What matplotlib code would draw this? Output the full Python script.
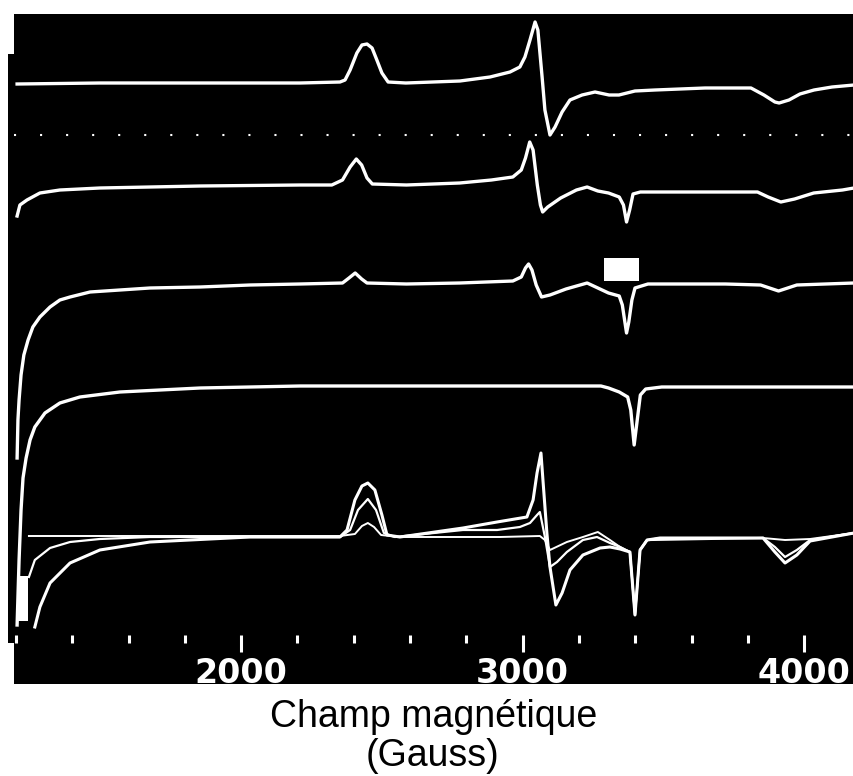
import matplotlib
matplotlib.use("Agg")
import matplotlib.pyplot as plt
from matplotlib.patches import Rectangle
from matplotlib.ticker import MultipleLocator

# spectra, top to bottom; field in Gauss, signal in arbitrary units above each baseline
offsets = [617, 514, 416, 314, 163]
dotted_level = 565

field_1 = [1204, 1498, 1854, 2209, 2351, 2369, 2387, 2411, 2429, 2447, 2465, 2482, 2500, 2522, 2585,
           2777, 2884, 2955, 2990, 3008, 3026, 3044, 3054, 3069, 3079, 3097, 3115, 3140, 3168, 3211,
           3257, 3307, 3342, 3399, 3470, 3648, 3811, 3857, 3896, 3911, 3946, 3985, 4035, 4099, 4177]
signal_1 = [-1, 0, 0, 0, 1, 3, 13, 30, 38, 39, 35, 23, 10, 1, 0,
            2, 6, 11, 16, 26, 43, 61, 53, 6, -27, -52, -44, -29, -17, -12,
            -9, -12, -12, -8, -7, -5, -5, -12, -19, -20, -17, -11, -7, -4, -2]

field_2 = [1204, 1214, 1239, 1285, 1356, 1498, 1676, 1854, 2209, 2322, 2360, 2387, 2409, 2428, 2447,
           2466, 2587, 2776, 2889, 2965, 2995, 3010, 3025, 3037, 3052, 3063, 3071, 3089, 3135, 3191,
           3229, 3267, 3305, 3343, 3358, 3369, 3380, 3392, 3418, 3467, 3720, 3834, 3872, 3917, 3966,
           4034, 4136, 4177]
signal_2 = [-30, -19, -14, -7, -4, -2, -1, 0, 1, 1, 6, 19, 27, 21, 8,
            2, 1, 3, 6, 9, 16, 28, 44, 36, 1, -19, -26, -21, -12, -4,
            -1, -5, -7, -11, -19, -36, -24, -8, -6, -6, -6, -6, -11, -16, -13,
            -7, -4, -2]

field_3 = [1204, 1207, 1211, 1218, 1228, 1243, 1260, 1285, 1321, 1356, 1392, 1463, 1569, 1676, 1854,
           2031, 2209, 2360, 2383, 2405, 2428, 2447, 2587, 2776, 2965, 2995, 3010, 3021, 3033, 3048,
           3067, 3097, 3154, 3229, 3267, 3305, 3343, 3354, 3362, 3369, 3377, 3388, 3399, 3445, 3720,
           3845, 3909, 3974, 4177]
signal_3 = [-174, -136, -116, -91, -71, -56, -43, -33, -23, -16, -13, -8, -6, -4, -3,
            -1, 0, 1, 6, 11, 5, 1, 0, 1, 3, 7, 16, 20, 14, -1,
            -13, -11, -5, 1, -4, -9, -12, -21, -36, -49, -38, -16, -4, 0, 0,
            -1, -7, -1, 1]

field_4 = [1204, 1211, 1218, 1225, 1236, 1250, 1267, 1303, 1356, 1427, 1569, 1854, 2209, 2587, 2965,
           3278, 3305, 3343, 3373, 3384, 3396, 3407, 3418, 3437, 3494, 4177]
signal_4 = [-239, -174, -124, -92, -72, -54, -41, -27, -17, -11, -6, -2, 0, 0, 0,
            0, -2, -6, -11, -24, -59, -34, -9, -3, -1, -1]

# overlaid group at the bottom (weak, medium, strong)
field_5a = [1246, 1498, 1854, 2351, 2404, 2429, 2450, 2472, 2497, 2564, 2919, 3061, 3079, 3097, 3157,
            3214, 3267, 3310, 3346, 3381, 3399, 3417, 3442, 3488, 3630, 3854, 3932, 4021, 4177]
signal_5a = [1, 1, 1, 1, 3, 11, 14, 10, 2, 0, 0, 1, -3, -13, -5,
             0, 5, -3, -10, -15, -78, -13, -3, -1, -1, -1, -3, -2, 4]

field_5b = [1246, 1267, 1321, 1392, 1498, 1676, 2351, 2387, 2415, 2450, 2479, 2507, 2546, 2788, 2909,
            2990, 3026, 3051, 3061, 3079, 3097, 3122, 3157, 3214, 3264, 3310, 3346, 3381, 3399, 3417,
            3442, 3854, 3896, 3932, 3974, 4021, 4177]
signal_5b = [-40, -23, -11, -5, -2, 0, 0, 7, 27, 38, 27, 4, 0, 7, 7,
             10, 14, 22, 25, 0, -30, -25, -15, -3, 0, -6, -10, -15, -78, -13,
             -3, -1, -10, -20, -13, -3, 4]

field_5c = [1267, 1285, 1321, 1392, 1498, 1676, 2031, 2351, 2376, 2404, 2429, 2450, 2475, 2500, 2518,
            2564, 2788, 2909, 3015, 3037, 3051, 3065, 3072, 3086, 3097, 3118, 3140, 3168, 3214, 3275,
            3310, 3346, 3381, 3399, 3417, 3442, 3488, 3854, 3896, 3932, 3974, 4021, 4177]
signal_5c = [-90, -70, -46, -26, -13, -5, 0, 0, 7, 37, 51, 54, 47, 22, 2,
             0, 9, 15, 20, 37, 64, 84, 57, 4, -30, -68, -56, -33, -18, -11,
             -10, -12, -15, -78, -13, -3, -1, -1, -15, -26, -18, -4, 4]

major_ticks = [2000, 3000, 4000]

W, H = 854, 776
fig = plt.figure(figsize=(W / 100, H / 100), dpi=100, facecolor="white")

# black board behind the plot and the tick numbers
fig.patches.append(Rectangle((14 / W, 1 - 684 / H), 840 / W, 670 / H, transform=fig.transFigure,
                             facecolor="black", edgecolor="none", zorder=-10))
fig.patches.append(Rectangle((8 / W, 1 - 643 / H), 7 / W, 589 / H, transform=fig.transFigure,
                             facecolor="black", edgecolor="none", zorder=-10))

ax = fig.add_axes([14 / W, 1 - 635 / H, 840 / W, 621 / H])
ax.set_zorder(1)
ax.set_facecolor("black")
for s in ax.spines.values():
    s.set_visible(False)

ax.axhline(dotted_level, color="white", lw=1.5, ls=(0, (1, 11.5)))

top = [(field_1, signal_1), (field_2, signal_2), (field_3, signal_3), (field_4, signal_4)]
for (f, s), off in zip(top, offsets[:4]):
    ax.plot(f, [off + v for v in s], color="white", lw=2.4, solid_joinstyle="round")

for f, s, lw in [(field_5a, signal_5a, 1.4), (field_5b, signal_5b, 1.6), (field_5c, signal_5c, 2.2)]:
    ax.plot(f, [offsets[4] + v for v in s], color="white", lw=lw, solid_joinstyle="round")

# white masking blocks on the trace
ax.add_patch(Rectangle((3289, 419), 124, 23, facecolor="white", edgecolor="none"))
ax.add_patch(Rectangle((1204, 79), 39, 45, facecolor="white", edgecolor="none"))

ax.set_xlim(1193, 4177)
ax.set_ylim(65, 686)
ax.set_yticks([])
ax.set_xticks(major_ticks)
ax.xaxis.set_minor_locator(MultipleLocator(200))
ax.tick_params(axis="x", which="major", length=12.5, width=2.2, color="white", pad=3,
               labelcolor="white", labelsize=24)
ax.tick_params(axis="x", which="minor", length=5.5, width=2.2, color="white")
for lab in ax.get_xticklabels():
    lab.set_fontweight("bold")
    lab.set_family("DejaVu Sans")

fig.text(434 / W, 1 - 727 / H, "Champ magnétique", ha="center", va="baseline",
         fontsize=27, family="Liberation Sans", color="black")
fig.text(433 / W, 1 - 766 / H, "(Gauss)", ha="center", va="baseline",
         fontsize=27, family="Liberation Sans", color="black")

fig.savefig("out.png", dpi=100, facecolor="white")
